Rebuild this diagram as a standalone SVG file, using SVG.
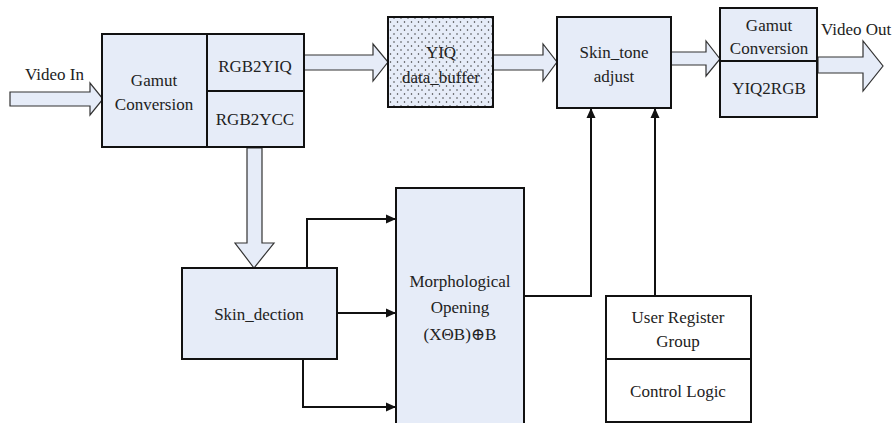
<svg xmlns="http://www.w3.org/2000/svg" width="892" height="423" viewBox="0 0 892 423">
  <style>
    .box { fill: #e6ecf8; stroke: #111; stroke-width: 2; }
    .plain { fill: #ffffff; stroke: #111; stroke-width: 2; }
    .div { stroke: #111; stroke-width: 2; fill: none; }
    .block { fill: #e6ecf8; stroke: #333; stroke-width: 1.2; stroke-linejoin: miter; }
    .wire { fill: none; stroke: #111; stroke-width: 2; }
    text { font-family: "Times New Roman", Times, "Liberation Serif", Tinos, "Noto Serif", "DejaVu Serif", FreeSerif, serif; font-size: 17px; fill: #222; text-anchor: middle; }
    .lbl { text-anchor: start; }
  </style>
  <defs>
    <pattern id="dots" width="7" height="8" patternUnits="userSpaceOnUse">
      <rect width="7" height="8" fill="#e6ecf8"/>
      <circle cx="2" cy="2" r="0.75" fill="#333"/>
      <circle cx="5.5" cy="6" r="0.75" fill="#333"/>
    </pattern>
    <marker id="ah" viewBox="0 0 10 10" refX="10" refY="5" markerWidth="10" markerHeight="10" markerUnits="userSpaceOnUse" orient="auto">
      <path d="M0,0.5 L10,5 L0,9.5 Z" fill="#111"/>
    </marker>
  </defs>

  <!-- connectors: wide data arrows and control lines -->
  <g id="connectors">
    <path class="block" d="M10,92 H90 V83 L103,99 L90,115 V106 H10 Z"/>
    <text class="lbl" x="25" y="80">Video In</text>
    <path class="block" d="M304,55 H373 V44 L388,62 L373,81 V70 H304 Z"/>
    <path class="block" d="M493,55 H543 V44 L557,62 L543,81 V70 H493 Z"/>
    <path class="block" d="M671,52 H706 V41 L720,59 L706,76 V65 H671 Z"/>
    <path class="block" d="M818,57 H863 V41 L883,66 L863,91 V73 H818 Z"/>
    <text class="lbl" x="821" y="35">Video Out</text>
    <path class="block" d="M247,148 V243 H235 L254,268 L274,243 H262 V148 Z"/>
    <path class="wire" d="M307,268 V219 H396" marker-end="url(#ah)"/>
    <path class="wire" d="M337,313 H396" marker-end="url(#ah)"/>
    <path class="wire" d="M303,359 V407 H396" marker-end="url(#ah)"/>
    <path class="wire" d="M524,296 H591 V108" marker-end="url(#ah)"/>
    <path class="wire" d="M655,296 V108" marker-end="url(#ah)"/>
  </g>

  <g id="gamut-in">
    <rect class="box" x="102" y="34" width="202" height="113"/>
    <path class="div" d="M207,34 V147 M207,91 H304"/>
    <text x="154" y="86">Gamut</text>
    <text x="154" y="110">Conversion</text>
    <text x="255" y="72">RGB2YIQ</text>
    <text x="255" y="125">RGB2YCC</text>
  </g>

  <g id="yiq-buffer">
    <rect x="388" y="17" width="105" height="90" fill="url(#dots)" stroke="#111" stroke-width="2"/>
    <text x="441" y="58">YIQ</text>
    <text x="441" y="83">data_buffer</text>
  </g>

  <g id="skin-tone">
    <rect class="box" x="557" y="17" width="114" height="91"/>
    <text x="614" y="58">Skin_tone</text>
    <text x="614" y="82">adjust</text>
  </g>

  <g id="gamut-out">
    <rect class="box" x="720" y="8" width="97" height="109"/>
    <path class="div" d="M720,61 H817"/>
    <text x="769" y="31">Gamut</text>
    <text x="769" y="54">Conversion</text>
    <text x="769" y="94">YIQ2RGB</text>
  </g>

  <g id="skin-detection">
    <rect class="box" x="182" y="268" width="155" height="91"/>
    <text x="259" y="320">Skin_dection</text>
  </g>

  <g id="morphology">
    <rect class="box" x="396" y="188" width="128" height="245"/>
    <text x="460" y="287">Morphological</text>
    <text x="460" y="313">Opening</text>
    <text x="460" y="340">(XΘB)⊕B</text>
  </g>

  <g id="user-register">
    <rect class="plain" x="606" y="296" width="145" height="126"/>
    <path class="div" d="M606,359 H751"/>
    <text x="678" y="323">User Register</text>
    <text x="678" y="347">Group</text>
    <text x="678" y="397">Control Logic</text>
  </g>
</svg>
